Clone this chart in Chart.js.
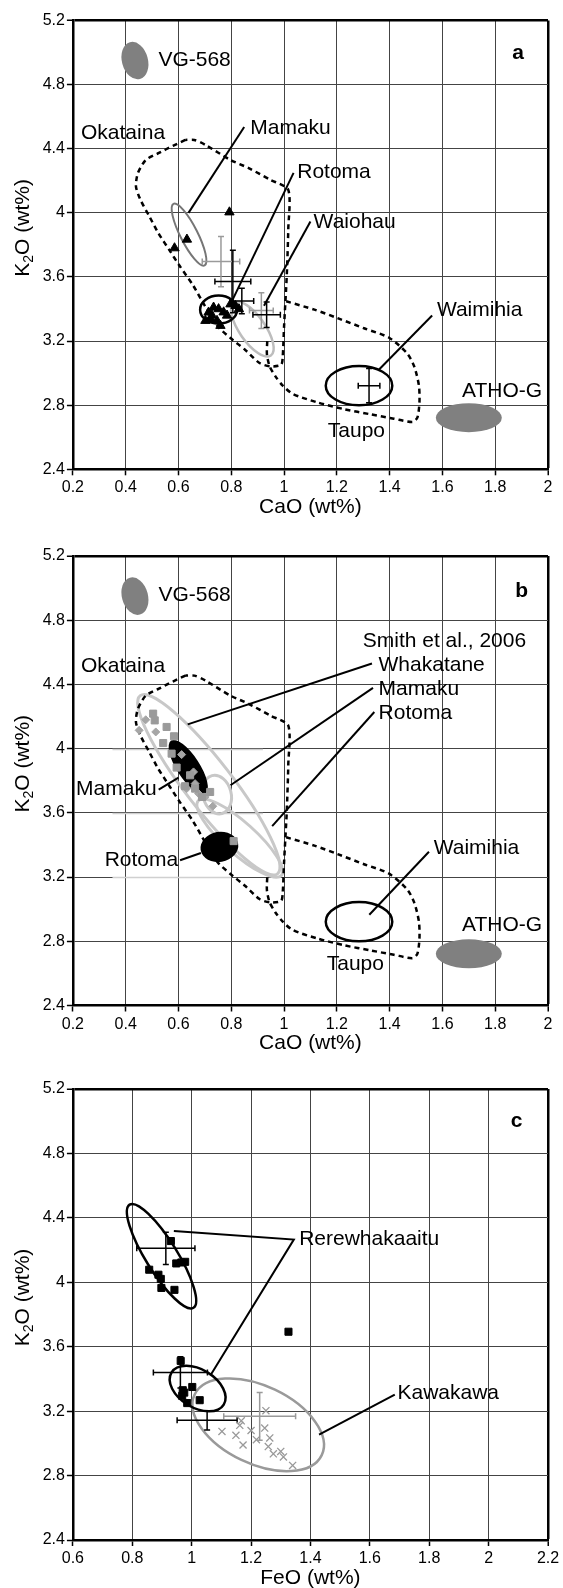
<!DOCTYPE html>
<html><head><meta charset="utf-8">
<script src="https://cdn.jsdelivr.net/npm/chart.js@4.4.0/dist/chart.umd.min.js"></script>
<style>
html,body{margin:0;padding:0;background:#fff;}
#wrap{position:relative;width:563px;height:1588px;}
.pc{position:absolute;left:0;width:563px;}
</style></head><body>
<div id="wrap">
<div class="pc" style="top:0;height:530px"><canvas id="ca"></canvas></div>
<div class="pc" style="top:530px;height:530px"><canvas id="cb"></canvas></div>
<div class="pc" style="top:1060px;height:528px"><canvas id="cc"></canvas></div>
</div>
<script>
// ---------------- axis ticks ----------------
const caoTicks = [0.2,0.4,0.6,0.8,1,1.2,1.4,1.6,1.8,2];
const caoTickLabels = ['0.2','0.4','0.6','0.8','1','1.2','1.4','1.6','1.8','2'];
const feoTicks = [0.6,0.8,1,1.2,1.4,1.6,1.8,2,2.2];
const feoTickLabels = ['0.6','0.8','1','1.2','1.4','1.6','1.8','2','2.2'];
const k2oTicks = [2.4,2.8,3.2,3.6,4,4.4,4.8,5.2];
const k2oTickLabels = ['2.4','2.8','3.2','3.6','4','4.4','4.8','5.2'];

// ---------------- reference fields (panels a, b) ----------------
const okatainaField = [[0.626,4.455],[0.579,4.418],[0.524,4.372],[0.476,4.33],[0.446,4.247],[0.439,4.164],[0.456,4.081],[0.49,3.977],[0.524,3.873],[0.565,3.769],[0.606,3.665],[0.654,3.551],[0.70,3.42],[0.749,3.291],[0.797,3.219],[0.852,3.146],[0.907,3.063],[0.948,3.042],[0.989,3.052],[0.995,3.104],[1.0,3.291],[1.01,3.6],[1.016,3.9],[1.016,4.143],[0.948,4.206],[0.866,4.279],[0.797,4.33],[0.702,4.424],[0.66,4.455],[0.626,4.455]];
const taupoField = [[1.008,3.448],[1.115,3.396],[1.203,3.343],[1.303,3.28],[1.398,3.221],[1.467,3.122],[1.494,3.038],[1.511,2.922],[1.513,2.817],[1.505,2.722],[1.486,2.695],[1.416,2.716],[1.328,2.743],[1.228,2.775],[1.127,2.817],[1.033,2.87],[0.995,2.922],[0.968,2.978],[0.945,3.044],[0.935,3.12],[0.937,3.22]];
// ellipses: centre x, centre y, major-axis tip x, tip y, minor/major ratio
const vg568Ell = [0.435,4.95,0.416,5.065,0.68];
const athoGEll = [1.70,2.722,1.825,2.722,0.44];
const waimihiaEll = [1.284,2.922,1.41,2.922,0.59];

// ---------------- panel a ----------------
const aTriCaO = [0.793,0.632,0.585,0.733,0.714,0.752,0.746,0.702,0.759,0.797,0.816,0.829,0.784,0.727,0.771,0.72];
const aTriK2O = [4.004,3.834,3.780,3.410,3.379,3.400,3.327,3.327,3.296,3.430,3.420,3.400,3.360,3.360,3.380,3.335];
const aRotomaEll = [0.752,3.396,0.822,3.396,0.76];
const aMamakuEll = [0.64,3.864,0.581,4.056,0.25];
const aWaiohauEll = [0.88,3.275,0.81,3.44,0.4];
// error bars: x, y, x sd, y sd
const aErrBlack = [[0.806,3.571,0.068,0.195],[0.84,3.45,0.045,0.08],[0.934,3.364,0.052,0.08],[1.322,2.922,0.041,0.107]];
const aErrGray = [[0.761,3.696,0.071,0.157],[0.914,3.39,0.045,0.112]];
const aLeaders = [[[0.638,4.0],[0.849,4.536]],[[0.803,3.451],[1.036,4.249]],[[0.924,3.42],[1.10,3.946]],[[1.36,3.023],[1.561,3.36]]];
const aLabels = [['VG-568',0.524,4.95,'left'],['Okataina',0.39,4.498,'center'],['Mamaku',0.872,4.53,'left'],['Rotoma',1.05,4.255,'left'],['Waiohau',1.112,3.944,'left'],['Waimihia',1.579,3.392,'left'],['ATHO-G',1.826,2.886,'center'],['Taupo',1.274,2.637,'center']];
const aLetter = ['a',1.887,4.995];

// ---------------- panel b ----------------
const bSqCaO = [0.504,0.51,0.555,0.583,0.542,0.574,0.593,0.644,0.625,0.663,0.689,0.72,0.809];
const bSqK2O = [4.218,4.176,4.135,4.077,4.035,3.969,3.882,3.834,3.766,3.751,3.699,3.73,3.424];
const bDiaCaO = [0.451,0.476,0.514,0.612,0.657,0.663,0.631,0.701,0.73,0.676];
const bDiaK2O = [4.114,4.18,4.104,3.963,3.855,3.782,3.751,3.699,3.641,3.72];
const bWhakataneEll = [0.715,3.775,0.455,4.33,0.21];
const bMamakuSmithEll = [0.746,3.714,0.727,3.832,0.72];
const bRotomaSmithEll = [0.8325,3.4425,0.675,3.675,0.28];
const bMamakuEll = [0.637,3.885,0.572,4.05,0.36];
const bRotomaEll = [0.755,3.388,0.826,3.408,0.79];
const bLeaders = [[[1.333,4.53],[0.635,4.151]],[[1.337,4.379],[0.797,3.772]],[[1.342,4.228],[0.955,3.517]],[[0.525,3.745],[0.60,3.82]],[[0.606,3.305],[0.685,3.35]],[[1.323,2.965],[1.549,3.358]]];
const bLabels = [['VG-568',0.524,4.953,'left'],['Okataina',0.39,4.514,'center'],['Smith et al., 2006',1.298,4.669,'left'],['Whakatane',1.358,4.518,'left'],['Mamaku',1.358,4.369,'left'],['Rotoma',1.358,4.22,'left'],['Mamaku',0.517,3.75,'right'],['Rotoma',0.599,3.306,'right'],['Waimihia',1.567,3.378,'left'],['ATHO-G',1.826,2.903,'center'],['Taupo',1.27,2.655,'center']];
const bLetter = ['b',1.9,4.98];
const bGridFade = [[0.35,0.92,4.0],[0.35,0.92,3.6],[0.35,0.8,3.2]];

// ---------------- panel c ----------------
const cSqFeO = [0.930,0.948,0.965,0.978,0.857,0.888,0.896,0.898,0.942,0.963,1.002,0.97,0.968,0.985,1.027,0.975,1.326];
const cSqK2O = [4.256,4.117,4.123,4.127,4.078,4.047,4.021,3.965,3.953,3.512,3.35,3.33,3.295,3.25,3.268,3.315,3.693];
const cXFeO = [1.102,1.149,1.167,1.162,1.173,1.2,1.218,1.246,1.25,1.263,1.258,1.275,1.3,1.309,1.34];
const cXK2O = [3.074,3.05,3.14,3.112,2.99,3.08,3.023,3.095,3.203,3.034,2.98,2.935,2.95,2.916,2.863];
const cRereUpperEll = [0.8985,4.162,0.791,4.482,0.26];
const cRereLowerEll = [1.02,3.34,1.108,3.241,0.62];
const cKawakawaEll = [1.224,3.115,1.438,2.927,0.553];
const cErrBlack = [[0.913,4.211,0.098,0.1],[0.962,3.44,0.091,0.097],[1.052,3.143,0.101,0.06]];
const cErrGray = [[1.229,3.168,0.121,0.148]];
const cLeaders = [[[0.94,4.318],[1.344,4.265],[1.065,3.428]],[[1.429,3.054],[1.684,3.303]]];
const cLabels = [['Rerewhakaaitu',1.362,4.267,'left'],['Kawakawa',1.693,3.313,'left']];
const cLetter = ['c',2.094,4.997];

// ======================================================
const FONT = "'Liberation Sans', Arial, Helvetica, sans-serif";
const toXY = (xs, ys) => xs.map((x,i)=>({x, y: ys[i]}));
const pairs = p => p.map(([x,y])=>({x,y}));

function drawEllipse(ctx, xs, ys, e, st){
  const cx = xs.getPixelForValue(e[0]), cy = ys.getPixelForValue(e[1]);
  const tx = xs.getPixelForValue(e[2]), ty = ys.getPixelForValue(e[3]);
  const a = Math.hypot(tx-cx, ty-cy), ang = Math.atan2(ty-cy, tx-cx);
  ctx.beginPath();
  ctx.ellipse(cx, cy, a, a*e[4], ang, 0, Math.PI*2);
  if (st.fill){ ctx.fillStyle = st.fill; ctx.fill(); }
  if (st.stroke){ ctx.strokeStyle = st.stroke; ctx.lineWidth = st.w; ctx.stroke(); }
}
function drawErr(ctx, xs, ys, e, color){
  const [x,y,dx,dy] = e;
  const px = xs.getPixelForValue(x), py = ys.getPixelForValue(y);
  const x1 = xs.getPixelForValue(x-dx), x2 = xs.getPixelForValue(x+dx);
  const y1 = ys.getPixelForValue(y+dy), y2 = ys.getPixelForValue(y-dy);
  const c = 3;
  ctx.strokeStyle = color; ctx.lineWidth = 1.5;
  ctx.beginPath();
  ctx.moveTo(x1,py); ctx.lineTo(x2,py);
  ctx.moveTo(px,y1); ctx.lineTo(px,y2);
  ctx.moveTo(x1,py-c); ctx.lineTo(x1,py+c);
  ctx.moveTo(x2,py-c); ctx.lineTo(x2,py+c);
  ctx.moveTo(px-c,y1); ctx.lineTo(px+c,y1);
  ctx.moveTo(px-c,y2); ctx.lineTo(px+c,y2);
  ctx.stroke();
}

function buildPanel(id, P){
  const datasets = [];
  (P.outlines||[]).forEach(o => datasets.push({data: pairs(o), showLine:true, borderColor:'#000', borderWidth:2.5, borderDash:[5,4], pointRadius:0, tension:0.25, fill:false, order:3}));
  (P.leaders||[]).forEach(l => datasets.push({data: pairs(l), showLine:true, borderColor:'#000', borderWidth:2, pointRadius:0, tension:0, fill:false, order:2}));
  (P.points||[]).forEach(s => datasets.push({data: toXY(s.x, s.y), showLine:false, pointStyle:s.style, pointRadius:s.r, pointBackgroundColor:s.fill, pointBorderColor:s.stroke, pointBorderWidth:s.bw, pointHoverRadius:s.r, order:1}));

  const plugin = {
    id: 'annot_'+id,
    beforeDatasetsDraw(chart){
      const ctx = chart.ctx, xs = chart.scales.x, ys = chart.scales.y, ca = chart.chartArea;
      ctx.save();
      ctx.beginPath(); ctx.rect(ca.left, ca.top, ca.right-ca.left, ca.bottom-ca.top); ctx.clip();
      (P.gridFade||[]).forEach(g => {
        ctx.strokeStyle = '#d0d0d0'; ctx.lineWidth = 1.5;
        const y = Math.round(ys.getPixelForValue(g[2])) + 0.5;
        ctx.beginPath(); ctx.moveTo(xs.getPixelForValue(g[0]), y); ctx.lineTo(xs.getPixelForValue(g[1]), y); ctx.stroke();
      });
      (P.ellipses||[]).forEach(([e,st]) => drawEllipse(ctx, xs, ys, e, st));
      (P.errGray||[]).forEach(e => drawErr(ctx, xs, ys, e, '#9a9a9a'));
      (P.errBlack||[]).forEach(e => drawErr(ctx, xs, ys, e, '#000'));
      ctx.restore();
    },
    afterDraw(chart){
      const ctx = chart.ctx, xs = chart.scales.x, ys = chart.scales.y, ca = chart.chartArea;
      ctx.save();
      ctx.fillStyle = '#000';
      ctx.textBaseline = 'middle';
      ctx.font = '21px ' + FONT;
      (P.labels||[]).forEach(([t,x,y,al]) => {
        ctx.textAlign = al;
        ctx.fillText(t, xs.getPixelForValue(x), ys.getPixelForValue(y));
      });
      ctx.font = 'bold 21px ' + FONT; ctx.textAlign = 'center';
      ctx.fillText(P.letter[0], xs.getPixelForValue(P.letter[1]), ys.getPixelForValue(P.letter[2]));
      // x title
      ctx.font = '21px ' + FONT; ctx.textAlign = 'center';
      ctx.fillText(P.xTitle, (ca.left+ca.right)/2, ca.bottom + 38);
      // y title with subscript
      const cy = (ca.top+ca.bottom)/2 - 17;
      ctx.translate(23, cy); ctx.rotate(-Math.PI/2);
      const big = '21px ' + FONT, small = '14px ' + FONT;
      ctx.font = big; const wK = ctx.measureText('K').width, wO = ctx.measureText('O (wt%)').width;
      ctx.font = small; const w2 = ctx.measureText('2').width;
      let x0 = -(wK+w2+wO)/2;
      ctx.textAlign = 'left';
      ctx.font = big; ctx.fillText('K', x0, 0); x0 += wK;
      ctx.font = small; ctx.fillText('2', x0, 6); x0 += w2;
      ctx.font = big; ctx.fillText('O (wt%)', x0, 0);
      ctx.restore();
    }
  };

  return new Chart(document.getElementById(id), {
    type: 'scatter',
    data: { datasets },
    plugins: [plugin],
    options: {
      responsive: true, maintainAspectRatio: false, animation: false,
      layout: { padding: { top: P.padTop, right: 15, left: 0, bottom: 0 } },
      plugins: { legend: { display: false }, tooltip: { enabled: false } },
      scales: {
        x: {
          type: 'linear', min: P.xMin, max: P.xMax,
          afterBuildTicks: s => { s.ticks = P.xTicks.map(v => ({ value: v })); },
          afterFit: s => { s.height = P.xAxisH; },
          ticks: { callback: (v,i) => P.xLabels[i], font: { size: 16, family: FONT }, color: '#000', padding: 3, maxRotation: 0, autoSkip: false },
          grid: { color: c => (c.tick && c.tick.value === P.xMax) ? '#000' : '#444',
                  lineWidth: c => (c.tick && c.tick.value === P.xMax) ? 2.5 : 1,
                  tickLength: 6, tickColor: '#000', tickWidth: 1.5 },
          border: { display: true, color: '#000', width: 2.5 }
        },
        y: {
          type: 'linear', min: 2.4, max: 5.2,
          afterBuildTicks: s => { s.ticks = k2oTicks.map(v => ({ value: v })); },
          afterFit: s => { s.width = 72.9; },
          ticks: { callback: (v,i) => k2oTickLabels[i], font: { size: 16, family: FONT }, color: '#000', padding: 2, autoSkip: false },
          grid: { color: c => (c.tick && c.tick.value === 5.2) ? '#000' : '#444',
                  lineWidth: c => (c.tick && c.tick.value === 5.2) ? 2.5 : 1,
                  tickLength: 6, tickColor: '#000', tickWidth: 1.5 },
          border: { display: true, color: '#000', width: 2.5 }
        }
      }
    }
  });
}

const GRAYFILL = { fill: '#808080' };
// Panel a
buildPanel('ca', {
  padTop: 20.5, xAxisH: 60.7, xMin: 0.2, xMax: 2, xTicks: caoTicks, xLabels: caoTickLabels, xTitle: 'CaO (wt%)',
  outlines: [okatainaField, taupoField],
  leaders: aLeaders,
  points: [{ x: aTriCaO, y: aTriK2O, style: 'triangle', r: 5.4, fill: '#000', stroke: '#000', bw: 1 }],
  ellipses: [[vg568Ell, GRAYFILL],[athoGEll, GRAYFILL],[waimihiaEll,{stroke:'#000',w:2.5}],
             [aWaiohauEll,{stroke:'#bdbdbd',w:2.5}],[aMamakuEll,{stroke:'#767676',w:2}],[aRotomaEll,{stroke:'#000',w:2.5}]],
  errBlack: aErrBlack, errGray: aErrGray,
  labels: aLabels, letter: aLetter
});
// Panel b
buildPanel('cb', {
  padTop: 26, xAxisH: 54.5, xMin: 0.2, xMax: 2, xTicks: caoTicks, xLabels: caoTickLabels, xTitle: 'CaO (wt%)',
  outlines: [okatainaField, taupoField],
  leaders: bLeaders,
  points: [{ x: bSqCaO, y: bSqK2O, style: 'rect', r: 5, fill: '#9a9a9a', stroke: '#9a9a9a', bw: 1 },
           { x: bDiaCaO, y: bDiaK2O, style: 'rectRot', r: 4, fill: '#a6a6a6', stroke: '#a6a6a6', bw: 1 }],
  ellipses: [[vg568Ell, GRAYFILL],[athoGEll, GRAYFILL],[waimihiaEll,{stroke:'#000',w:2.5}],
             [bWhakataneEll,{stroke:'#c8c8c8',w:3}],[bMamakuSmithEll,{stroke:'#c8c8c8',w:3}],[bRotomaSmithEll,{stroke:'#c8c8c8',w:3}],
             [bMamakuEll,{fill:'#000'}],[bRotomaEll,{fill:'#000'}]],
  gridFade: bGridFade,
  labels: bLabels, letter: bLetter
});
// Panel c
buildPanel('cc', {
  padTop: 29, xAxisH: 48, xMin: 0.6, xMax: 2.2, xTicks: feoTicks, xLabels: feoTickLabels, xTitle: 'FeO (wt%)',
  leaders: cLeaders,
  points: [{ x: cSqFeO, y: cSqK2O, style: 'rect', r: 5, fill: '#000', stroke: '#000', bw: 1 },
           { x: cXFeO, y: cXK2O, style: 'crossRot', r: 5, fill: '#999', stroke: '#999', bw: 1.3 }],
  ellipses: [[cKawakawaEll,{stroke:'#9a9a9a',w:2.5}],[cRereUpperEll,{stroke:'#000',w:2.5}],[cRereLowerEll,{stroke:'#000',w:2.5}]],
  errBlack: cErrBlack, errGray: cErrGray,
  labels: cLabels, letter: cLetter
});
</script>
</body></html>
